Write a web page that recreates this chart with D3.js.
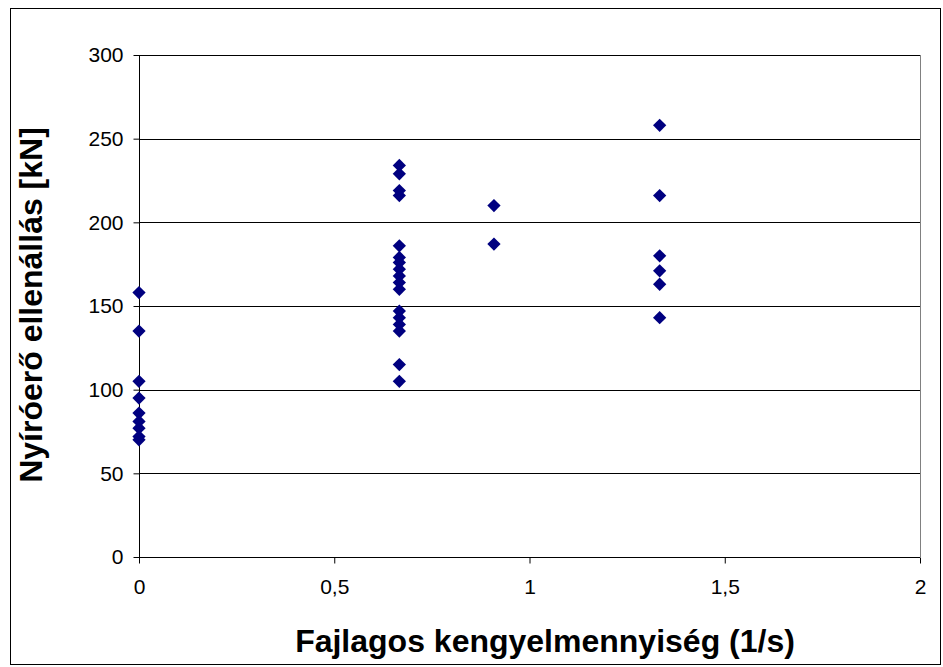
<!DOCTYPE html>
<html>
<head>
<meta charset="utf-8">
<script src="https://cdn.jsdelivr.net/npm/d3@7"></script>
<style>
  html, body { margin: 0; padding: 0; background: #fff; }
  svg { display: block; }
  text { font-family: "Liberation Sans", Arial, sans-serif; fill: #000; }
</style>
</head>
<body>
<svg id="chart" width="943" height="667"></svg>
<script>
// Specific stirrup quantity (x) and measured shear resistance in kN (y)
const stirrupRatio = [
  0, 0, 0, 0, 0, 0, 0, 0, 0,
  0.6667, 0.6667, 0.6667, 0.6667, 0.6667, 0.6667, 0.6667, 0.6667, 0.6667,
  0.6667, 0.6667, 0.6667, 0.6667, 0.6667, 0.6667, 0.6667, 0.6667,
  0.909, 0.909,
  1.3333, 1.3333, 1.3333, 1.3333, 1.3333, 1.3333
];
const shearResistance = [
  158, 135, 105, 95, 86, 81, 77, 72, 70,
  234, 229, 219, 216, 186, 179, 176, 172, 168,
  164, 160, 147, 143, 139, 135, 115, 105,
  210, 187,
  258, 216, 180, 171, 163, 143
];
const xTicks = [0, 0.5, 1, 1.5, 2];
const yTicks = [0, 50, 100, 150, 200, 250, 300];
const xTitle = "Fajlagos kengyelmennyiség (1/s)";
const yTitle = "Nyíróerő ellenállás [kN]";

const svg = d3.select("#chart");
const plot = { left: 139, top: 55, right: 920, bottom: 557 };

const x = d3.scaleLinear().domain([0, 2]).range([plot.left, plot.right]);
const y = d3.scaleLinear().domain([0, 300]).range([plot.bottom, plot.top]);
const fmt = d => String(d).replace(".", ",");

// outer chart frame
svg.append("rect")
  .attr("x", 10.5).attr("y", 8.5)
  .attr("width", 930).attr("height", 656)
  .attr("fill", "none").attr("stroke", "#000").attr("stroke-width", 1);

// horizontal gridlines
svg.append("g")
  .selectAll("line")
  .data(yTicks.filter(d => d > 0))
  .join("line")
  .attr("x1", plot.left).attr("x2", plot.right)
  .attr("y1", d => Math.round(y(d)) + 0.5).attr("y2", d => Math.round(y(d)) + 0.5)
  .attr("stroke", "#000").attr("stroke-width", 1);

// right edge of the plot area
svg.append("line")
  .attr("x1", plot.right + 0.5).attr("x2", plot.right + 0.5)
  .attr("y1", plot.top).attr("y2", plot.bottom)
  .attr("stroke", "#808080").attr("stroke-width", 1);

// axes
const yAxis = d3.axisLeft(y).tickValues(yTicks).tickSize(6).tickPadding(10).tickFormat(fmt);
const xAxis = d3.axisBottom(x).tickValues(xTicks).tickSize(6).tickPadding(16).tickFormat(fmt);

const gy = svg.append("g")
  .attr("transform", `translate(${plot.left + 0.5},0)`)
  .call(yAxis);
const gx = svg.append("g")
  .attr("transform", `translate(0,${plot.bottom + 0.5})`)
  .call(xAxis);

[gx, gy].forEach(g => {
  g.select(".domain").attr("stroke", "#000");
  g.selectAll(".tick line").attr("stroke", "#000");
  g.selectAll(".tick text")
    .attr("font-family", "Liberation Sans, Arial, sans-serif")
    .attr("font-size", 21)
    .attr("fill", "#000");
});
gx.select(".domain").attr("d", `M${plot.left},0H${plot.right}`);
gy.select(".domain").attr("d", `M0,${plot.top}V${plot.bottom}`);

// diamond markers
const diamond = d3.symbol().type(d3.symbolSquare).size(88);
svg.append("g")
  .selectAll("path")
  .data(stirrupRatio.map((v, i) => [v, shearResistance[i]]))
  .join("path")
  .attr("d", diamond)
  .attr("transform", d => `translate(${x(d[0])},${y(d[1])}) rotate(45)`)
  .attr("fill", "#000080");

// axis titles
svg.append("text")
  .attr("x", 545).attr("y", 652)
  .attr("text-anchor", "middle")
  .attr("font-size", 32).attr("font-weight", "bold")
  .text(xTitle);

svg.append("text")
  .attr("transform", "translate(42,305) rotate(-90)")
  .attr("text-anchor", "middle")
  .attr("font-size", 32).attr("font-weight", "bold")
  .text(yTitle);
</script>
</body>
</html>
